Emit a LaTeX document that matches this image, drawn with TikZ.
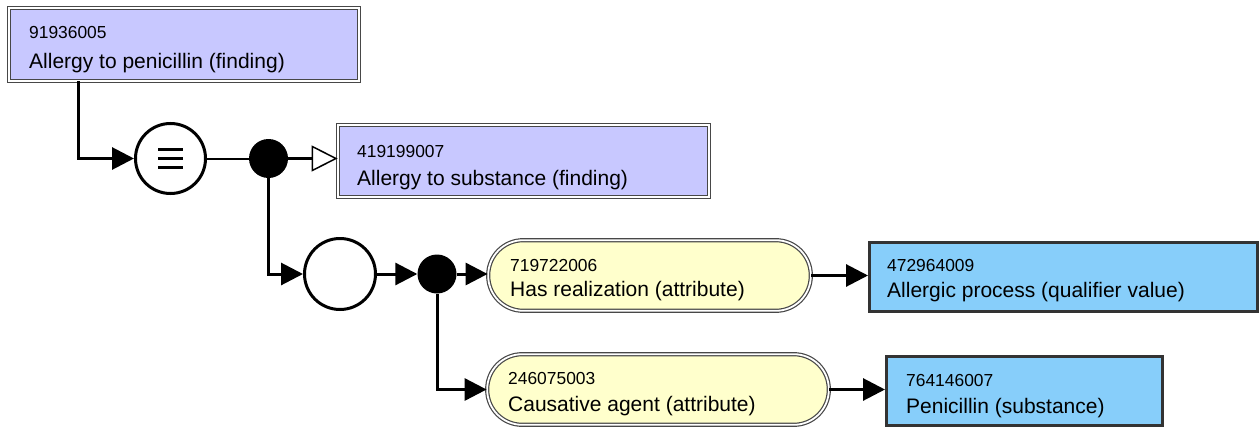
\documentclass[tikz,border=0pt]{standalone}
\usepackage{fontspec}
\setmainfont{Liberation Sans}
\usetikzlibrary{arrows.meta}
\definecolor{primfill}{HTML}{C8C8FF}
\definecolor{attrfill}{HTML}{FFFFCC}
\definecolor{valfill}{HTML}{87CEFA}
\begin{document}
\begin{tikzpicture}[x=1pt,y=-1pt,
  conceptbox/.style={rectangle,fill=primfill,draw=black!72,line width=1.2pt,
    double=white,double distance=1.8pt,inner sep=0pt},
  attrbox/.style={rectangle,rounded corners=35pt,fill=attrfill,draw=black!72,
    line width=1.2pt,double=white,double distance=1.8pt,inner sep=0pt},
  valuebox/.style={rectangle,fill=valfill,draw=black!80,line width=3pt,inner sep=0pt},
  idtext/.style={anchor=base west,inner sep=0pt,font=\fontsize{17.4}{20}\selectfont},
  nametext/.style={anchor=base west,inner sep=0pt,font=\fontsize{21}{25}\selectfont},
  opcircle/.style={circle,draw=black,line width=3pt,fill=white,inner sep=0pt},
  joindot/.style={circle,fill=black,inner sep=0pt,minimum size=39pt},
  link/.style={line width=3pt,-{Triangle[length=22pt,width=22pt]}},
  isa/.style={line width=3pt,-{Triangle[open,length=26pt,width=26pt,line width=1.5pt,fill=white]}}
]
\useasboundingbox (0,0) rectangle (1260,428);

% defined concept and its parent
\node[conceptbox,minimum width=349.6pt,minimum height=72.6pt] (c1) at (184,44.5) {};
\node[idtext] (c1id) at (29,39) {91936005};
\node[nametext] (c1nm) at (29,68) {Allergy to penicillin (finding)};

\node[conceptbox,minimum width=370.6pt,minimum height=71.6pt] (c2) at (523.5,161) {};
\node[idtext] (c2id) at (357,157) {419199007};
\node[nametext] (c2nm) at (357,185) {Allergy to substance (finding)};

% definition status, conjunctions and role group
\node[opcircle,minimum size=70pt] (eq) at (170.5,158.5) {};
\draw[line width=3pt] ([xshift=-12.5pt,yshift=-9pt]eq.center) -- ++(25,0)
  ([xshift=-12.5pt]eq.center) -- ++(25,0)
  ([xshift=-12.5pt,yshift=9pt]eq.center) -- ++(25,0);
\node[joindot] (j1) at (268.5,158.5) {};
\node[opcircle,minimum size=71pt] (rg) at (340,274) {};
\node[joindot] (j2) at (437,274) {};

% attributes
\node[attrbox,minimum width=322.6pt,minimum height=70.6pt] (a1) at (649.5,275.5) {};
\node[idtext] (a1id) at (510,271) {719722006};
\node[nametext] (a1nm) at (510,296) {Has realization (attribute)};

\node[attrbox,minimum width=341.6pt,minimum height=70.6pt] (a2) at (658,389.5) {};
\node[idtext] (a2id) at (508,384) {246075003};
\node[nametext] (a2nm) at (508,411) {Causative agent (attribute)};

% attribute values
\node[valuebox,minimum width=388pt,minimum height=69pt] (v1) at (1063.5,277) {};
\node[idtext] (v1id) at (887,271) {472964009};
\node[nametext] (v1nm) at (887,297) {Allergic process (qualifier value)};

\node[valuebox,minimum width=276pt,minimum height=69pt] (v2) at (1024.5,391) {};
\node[idtext] (v2id) at (906,386) {764146007};
\node[nametext] (v2nm) at (906,413) {Penicillin (substance)};

% connectors
\draw[link] ([xshift=69.5pt]c1.south west) |- (eq.west);
\draw[line width=2pt] (eq.east) -- (j1.west);
\draw[isa] (j1.east) -- (c2.west |- j1.east);
\draw[link] (j1.south) |- (rg.west);
\draw[link] (rg.east) -- (j2.west);
\draw[link] (j2.east) -- (a1.west |- j2.east);
\draw[link] (j2.south) |- (a2.west);
\draw[link] (a1.east) -- (v1.west |- a1.east);
\draw[link] (a2.east) -- (v2.west |- a2.east);
\end{tikzpicture}
\end{document}
